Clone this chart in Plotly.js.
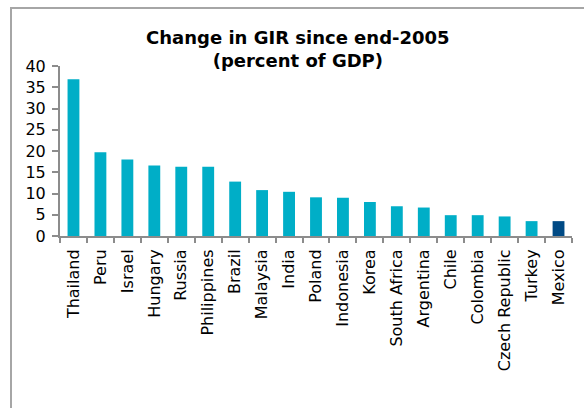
<!DOCTYPE html>
<html>
<head>
<meta charset="utf-8">
<script src="https://cdn.plot.ly/plotly-3.0.1.min.js"></script>
<style>
  html, body { margin: 0; padding: 0; background: #ffffff; }
  #chart { width: 584px; height: 408px; }
</style>
</head>
<body>
<div id="chart"></div>
<script>
const countries = ["Thailand", "Peru", "Israel", "Hungary", "Russia", "Philippines", "Brazil",
  "Malaysia", "India", "Poland", "Indonesia", "Korea", "South Africa", "Argentina", "Chile",
  "Colombia", "Czech Republic", "Turkey", "Mexico"];
const girChange = [36.9, 19.7, 18.0, 16.6, 16.3, 16.3, 12.8, 10.8, 10.4, 9.1, 9.0, 8.0, 7.0, 6.7, 4.9, 4.9, 4.6, 3.5, 3.5];
const highlight = "Mexico";
const yTicks = [0, 5, 10, 15, 20, 25, 30, 35, 40];

const teal = "#00AEC7";
const navy = "#004A85";
const colors = countries.map(c => c === highlight ? navy : teal);

const trace = {
  type: "bar",
  x: countries,
  y: girChange,
  marker: { color: colors, line: { width: 0 } },
  hoverinfo: "x+y"
};

const font = { family: "DejaVu Sans, Liberation Sans, Arial, sans-serif", size: 16, color: "#000000" };

const layout = {
  width: 584,
  height: 408,
  margin: { l: 60, r: 12, t: 66, b: 172, pad: 0 },
  paper_bgcolor: "#ffffff",
  plot_bgcolor: "#ffffff",
  font: font,
  showlegend: false,
  bargap: 0.56,
  title: {
    text: "<b>Change in GIR since end-2005<br>(percent of GDP)</b>",
    font: { family: "DejaVu Sans, Liberation Sans, Arial, sans-serif", size: 18, color: "#000000" },
    xref: "container", yref: "container",
    x: 0.51, xanchor: "center",
    y: 0.893, yanchor: "middle"
  },
  xaxis: {
    type: "category",
    tickangle: -90,
    tickson: "boundaries",
    ticks: "outside",
    ticklen: 5,
    tickcolor: "#8c8c8c",
    tickwidth: 2,
    showline: true,
    linecolor: "#8c8c8c",
    linewidth: 2,
    showgrid: false,
    zeroline: false,
    tickfont: font,
    ticklabelstandoff: 5,
    fixedrange: true
  },
  yaxis: {
    range: [0, 40],
    tickvals: yTicks,
    ticktext: yTicks.map(String),
    ticks: "outside",
    ticklen: 6,
    tickcolor: "#8c8c8c",
    tickwidth: 2,
    showline: true,
    linecolor: "#8c8c8c",
    linewidth: 2,
    showgrid: false,
    zeroline: false,
    tickfont: font,
    ticklabelstandoff: 3,
    fixedrange: true
  },
  shapes: [{
    type: "rect",
    xref: "paper", yref: "paper",
    x0: -0.0957, x1: 1.5,
    y0: -2, y1: 1.341,
    line: { color: "#a6a6a6", width: 2 },
    fillcolor: "rgba(0,0,0,0)",
    layer: "below"
  }]
};

Plotly.newPlot("chart", [trace], layout, { displayModeBar: false, staticPlot: true });
</script>
</body>
</html>
